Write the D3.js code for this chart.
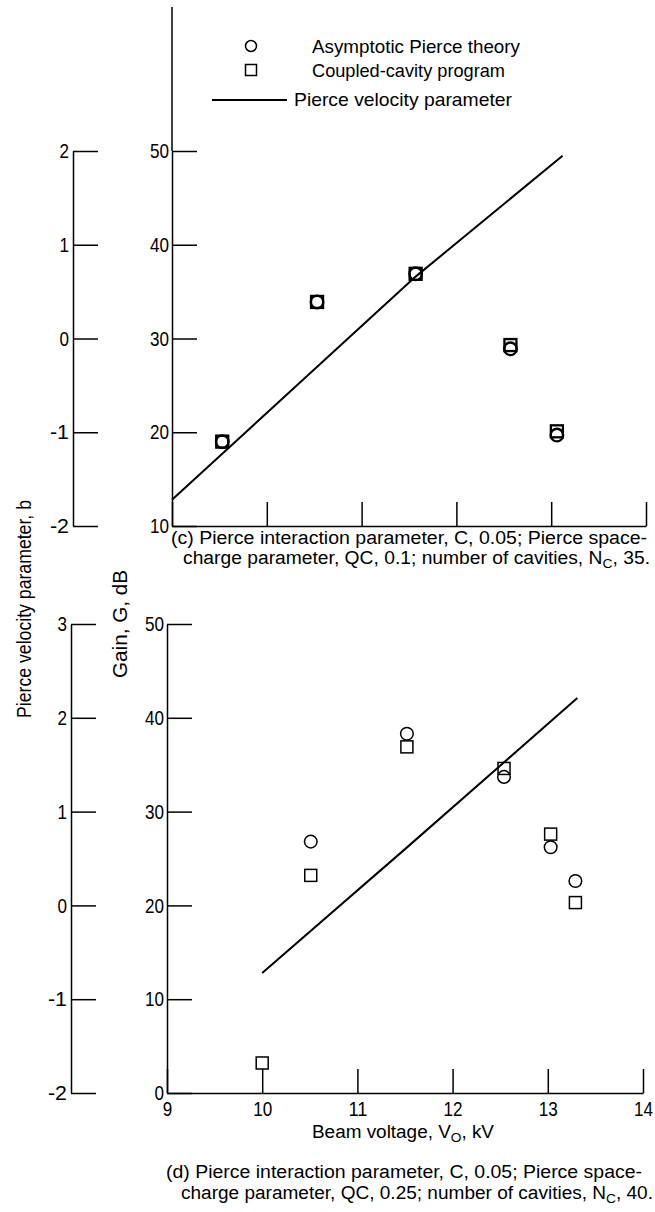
<!DOCTYPE html>
<html>
<head>
<meta charset="utf-8">
<script src="https://cdn.jsdelivr.net/npm/d3@7"></script>
<style>
  body { margin: 0; background: #fff; }
  svg text { fill: #000; }
</style>
</head>
<body>
<svg id="chart"></svg>
<script>
// 数据 (c) 面板
const voltC = [9.53, 10.53, 11.57, 12.57, 13.06];
const pierceC = [19.0, 33.9, 36.9, 28.9, 19.7];
const cavityC = [19.0, 33.9, 36.9, 29.3, 20.1];
const lineVoltC = [9.0, 11.57, 13.12];
const lineBC = [-1.72, 0.66, 1.95];

// 数据 (d) 面板
const voltD = [10.0, 10.51, 11.52, 12.54, 13.03, 13.29];
const pierceD = [null, 26.8, 38.3, 33.7, 26.2, 22.6];
const cavityD = [3.2, 23.2, 36.9, 34.6, 27.6, 20.3];
const lineVoltD = [10.0, 11.5, 13.31];
const lineBD = [-0.72, 0.6, 2.21];

// 刻度
const voltTicks = [9, 10, 11, 12, 13, 14];
const gainTicksC = [10, 20, 30, 40, 50];
const bTicksC = [-2, -1, 0, 1, 2];
const gainTicksD = [0, 10, 20, 30, 40, 50];
const bTicksD = [-2, -1, 0, 1, 2, 3];

const narrow = '"Liberation Sans Narrow", "Liberation Sans", Arial, sans-serif';
const regular = '"Liberation Sans", Arial, sans-serif';

let width = 655, height = 1212;
let svg = d3.select('#chart').attr('width', width).attr('height', height);

function style_axis(g) {
    g.attr('font-family', narrow).attr('font-size', 21);
    g.selectAll('path, line').attr('stroke', '#000').attr('stroke-width', 1.5);
    // 窄体数字
    g.selectAll('.tick text')
        .attr('font-size', 21)
        .attr('textLength', function () { return this.textContent.length * 9.5; })
        .attr('lengthAdjust', 'spacingAndGlyphs');
}

function draw_panel(cfg) {
    let x = d3.scaleLinear().domain([9, 14]).range(cfg.xRange);
    let gy = d3.scaleLinear().domain(cfg.gainDomain).range(cfg.yRange);
    let by = d3.scaleLinear().domain(cfg.bDomain).range(cfg.yRange);
    let root = svg.append('g');

    // b 轴 (左)
    let bAxis = root.append('g')
        .attr('transform', `translate(${cfg.bX},0)`)
        .call(d3.axisRight(by).tickValues(cfg.bTicks).tickSize(25).tickSizeOuter(0)
            .tickFormat(d => d < 0 ? '-' + Math.abs(d) : String(d)));
    bAxis.selectAll('.tick text').attr('x', -4).attr('text-anchor', 'end');
    style_axis(bAxis);

    // 增益轴
    let gAxis = root.append('g')
        .attr('transform', `translate(${cfg.gainX},0)`)
        .call(d3.axisRight(gy).tickValues(cfg.gainTicks).tickSize(25).tickSizeOuter(0)
            .tickFormat(d3.format('d')));
    gAxis.selectAll('.tick text').attr('x', -3).attr('text-anchor', 'end');
    if (cfg.gainTop != null) {
        gAxis.append('line')
            .attr('x1', 0).attr('x2', 0)
            .attr('y1', gy(cfg.gainDomain[1])).attr('y2', cfg.gainTop);
    }
    style_axis(gAxis);

    // 电压轴 (刻度向上)
    let xAxisGen = d3.axisBottom(x).tickValues(voltTicks)
        .tickSizeInner(-24).tickSizeOuter(0).tickPadding(8)
        .tickFormat(cfg.xLabels ? d3.format('d') : '');
    let xAxis = root.append('g')
        .attr('transform', `translate(0,${cfg.yRange[0]})`)
        .call(xAxisGen);
    style_axis(xAxis);

    // Pierce velocity parameter 曲线
    let pts = cfg.lineVolt.map((v, i) => [v, cfg.lineB[i]]);
    root.append('path')
        .datum(pts)
        .attr('fill', 'none')
        .attr('stroke', '#000')
        .attr('stroke-width', 2)
        .attr('d', d3.line().x(d => x(d[0])).y(d => by(d[1])));

    // 方块: Coupled-cavity program
    let s = 12;
    root.append('g').selectAll('rect')
        .data(cfg.volts.map((v, i) => ({v: v, g: cfg.cavity[i]})).filter(d => d.g != null))
        .join('rect')
        .attr('x', d => x(d.v) - s / 2)
        .attr('y', d => gy(d.g) - s / 2)
        .attr('width', s).attr('height', s)
        .attr('fill', 'none').attr('stroke', '#000')
        .attr('stroke-width', cfg.markerStroke);

    // 圆: Asymptotic Pierce theory
    root.append('g').selectAll('circle')
        .data(cfg.volts.map((v, i) => ({v: v, g: cfg.pierce[i]})).filter(d => d.g != null))
        .join('circle')
        .attr('cx', d => x(d.v))
        .attr('cy', d => gy(d.g))
        .attr('r', 6.3)
        .attr('fill', 'none').attr('stroke', '#000')
        .attr('stroke-width', cfg.markerStroke);
}

draw_panel({
    xRange: [172, 646], yRange: [526, 151],
    gainDomain: [10, 50], bDomain: [-2, 2],
    gainTicks: gainTicksC, bTicks: bTicksC,
    gainX: 172, bX: 73, gainTop: 7, xLabels: false,
    volts: voltC, pierce: pierceC, cavity: cavityC,
    lineVolt: lineVoltC, lineB: lineBC, markerStroke: 2.3
});

draw_panel({
    xRange: [167, 643], yRange: [1093, 624],
    gainDomain: [0, 50], bDomain: [-2, 3],
    gainTicks: gainTicksD, bTicks: bTicksD,
    gainX: 167, bX: 71, gainTop: null, xLabels: true,
    volts: voltD, pierce: pierceD, cavity: cavityD,
    lineVolt: lineVoltD, lineB: lineBD, markerStroke: 1.5
});

// 图例
let legend = svg.append('g').attr('font-family', narrow).attr('font-size', 19);
legend.append('circle').attr('cx', 251).attr('cy', 46).attr('r', 5.5)
    .attr('fill', 'none').attr('stroke', '#000').attr('stroke-width', 1.5);
legend.append('rect').attr('x', 245.5).attr('y', 64.5).attr('width', 11).attr('height', 11)
    .attr('fill', 'none').attr('stroke', '#000').attr('stroke-width', 1.5);
legend.append('line').attr('x1', 212).attr('x2', 287).attr('y1', 100).attr('y2', 100)
    .attr('stroke', '#000').attr('stroke-width', 2);
[['Asymptotic Pierce theory', 312, 53, 208],
 ['Coupled-cavity program', 312, 77, 193],
 ['Pierce velocity parameter', 294, 106, 218]].forEach(t => {
    legend.append('text').attr('x', t[1]).attr('y', t[2])
        .attr('textLength', t[3]).attr('lengthAdjust', 'spacingAndGlyphs')
        .text(t[0]);
});

// 纵轴标题
svg.append('text')
    .attr('transform', 'translate(31,609) rotate(-90)')
    .attr('text-anchor', 'middle')
    .attr('font-family', regular).attr('font-size', 20)
    .attr('textLength', 218).attr('lengthAdjust', 'spacingAndGlyphs')
    .text('Pierce velocity parameter, b');
svg.append('text')
    .attr('transform', 'translate(127,624) rotate(-90)')
    .attr('text-anchor', 'middle')
    .attr('font-family', regular).attr('font-size', 20)
    .attr('textLength', 108).attr('lengthAdjust', 'spacingAndGlyphs')
    .text('Gain, G, dB');

// 带下标的文字
function sub_text(x, y, parts, len, anchor) {
    let t = svg.append('text')
        .attr('x', x).attr('y', y)
        .attr('font-family', narrow).attr('font-size', 18)
        .attr('text-anchor', anchor || 'start')
        .attr('textLength', len).attr('lengthAdjust', 'spacingAndGlyphs');
    parts.forEach(p => {
        if (p.sub) {
            t.append('tspan').attr('dy', 4).attr('font-size', 13).text(p.sub);
        } else {
            t.append('tspan').attr('dy', p.back ? -4 : 0).text(p.t);
        }
    });
}

sub_text(403, 1138, [{t: 'Beam voltage, V'}, {sub: 'O'}, {t: ', kV', back: true}], 182, 'middle');

// 说明文字
sub_text(171, 544, [{t: '(c) Pierce interaction parameter, C, 0.05; Pierce space-'}], 476);
sub_text(183, 564, [{t: 'charge parameter, QC, 0.1; number of cavities, N'}, {sub: 'C'}, {t: ', 35.', back: true}], 467);
sub_text(166, 1178, [{t: '(d) Pierce interaction parameter, C, 0.05; Pierce space-'}], 476);
sub_text(181, 1199, [{t: 'charge parameter, QC, 0.25; number of cavities, N'}, {sub: 'C'}, {t: ', 40.', back: true}], 472);
</script>
</body>
</html>
